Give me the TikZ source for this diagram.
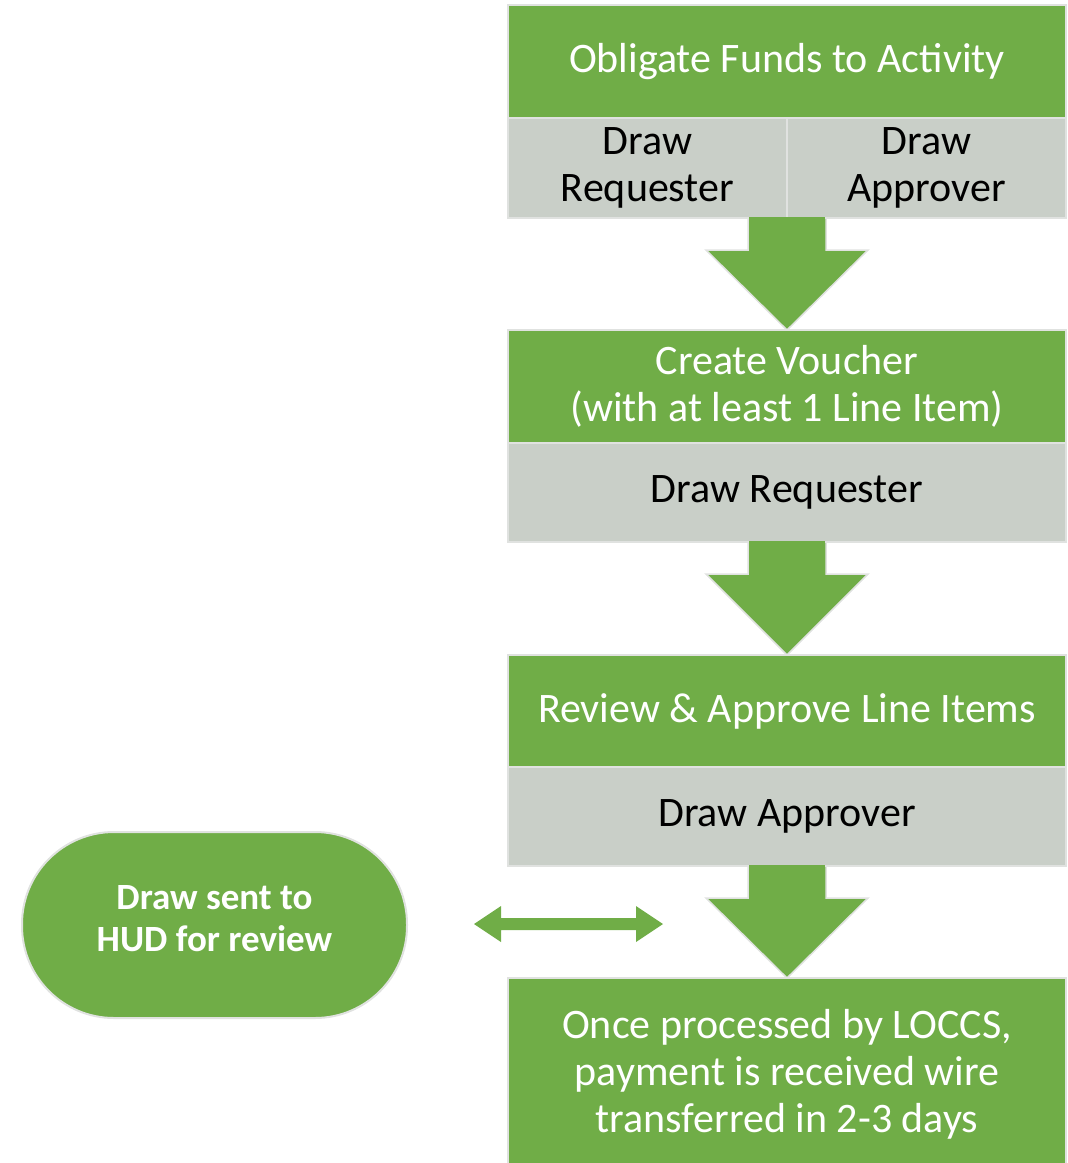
\documentclass[tikz,border=0pt]{standalone}
\usepackage{fontspec}
\setmainfont{Carlito}
\usetikzlibrary{calc}
\definecolor{hudgreen}{RGB}{112,173,71}
\definecolor{hudgray}{RGB}{201,207,200}
\definecolor{edgegray}{RGB}{224,226,224}
\tikzset{
  greenbox/.style={draw=edgegray, line width=2pt, fill=hudgreen, text=white,
    minimum width=558, inner sep=0, align=center, font=\fontsize{42}{47}\selectfont},
  graybox/.style={draw=edgegray, line width=2pt, fill=hudgray, text=black,
    minimum width=558, inner sep=0, align=center, font=\fontsize{42}{47}\selectfont},
  halfbox/.style={graybox, minimum width=279},
  blockarrow/.style={fill=hudgreen, draw=edgegray, line width=1.5pt, line join=miter},
  stadium/.style={draw=edgegray, line width=2pt, fill=hudgreen,
    rounded corners=92, minimum width=385, minimum height=186, inner sep=0},
  stadiumtext/.style={text=white, align=center, inner sep=0,
    font=\fontsize{37}{42}\selectfont\bfseries},
  twoway/.style={fill=hudgreen, draw=none}
}
\begin{document}
\begin{tikzpicture}[x=1pt,y=-1pt]
\useasboundingbox (0,0) rectangle (1068,1163);
% block arrows first (behind boxes)
\coordinate (a1s) at (787,218);
\coordinate (a1t) at (787,330);
\coordinate (a2s) at (787,542);
\coordinate (a2t) at (787,655);
\coordinate (a3s) at (787,866);
\coordinate (a3t) at (787,978);
\foreach \s/\t in {a1s/a1t,a2s/a2t,a3s/a3t}{
  \filldraw[blockarrow] ($(\s)+(-39,-2)$) -- ($(\s)+(-39,32)$) -- ($(\s)+(-81,32)$)
    -- (\t) -- ($(\s)+(81,32)$) -- ($(\s)+(39,32)$) -- ($(\s)+(39,-2)$);
}
% boxes
\node[greenbox, minimum height=113] (b1) at (787,61.5) {Obligate Funds to Activity};
\node[halfbox, minimum height=100] (g1l) at (647.5,168) {Draw\\Requester};
\node[halfbox, minimum height=100] (g1r) at (926.5,168) {Draw\\Approver};
\node[greenbox, minimum height=113] (b2) at (787,386.5) {Create Voucher\\(with at least 1 Line Item)};
\node[graybox, minimum height=99] (g2) at (787,492.5) {Draw Requester};
\node[greenbox, minimum height=112] (b3) at (787,711) {Review \& Approve Line Items};
\node[graybox, minimum height=99] (g3) at (787,816.5) {Draw Approver};
\node[greenbox, minimum height=192] (b4) at (787,1074) {Once processed by LOCCS,\\payment is received wire\\transferred in 2-3 days};
% redraw arrow tops over box borders
\foreach \s/\t in {a1s/a1t,a2s/a2t,a3s/a3t}{
  \fill[hudgreen] ($(\s)+(-38,-1)$) rectangle ($(\s)+(38,3)$);
}
% stadium
\node[stadium] (hud) at (214.5,925) {};
\node[stadiumtext] (hudtext) at (214.5,919) {Draw sent to\\HUD for review};
% two-way arrow
\coordinate (dl) at (474,924);
\coordinate (dr) at (663,924);
\fill[twoway] (dl) -- ($(dl)+(27,-18)$) -- ($(dl)+(27,-6)$) -- ($(dr)+(-27,-6)$)
  -- ($(dr)+(-27,-18)$) -- (dr) -- ($(dr)+(-27,18)$) -- ($(dr)+(-27,6)$)
  -- ($(dl)+(27,6)$) -- ($(dl)+(27,18)$) -- cycle;
\end{tikzpicture}
\end{document}
